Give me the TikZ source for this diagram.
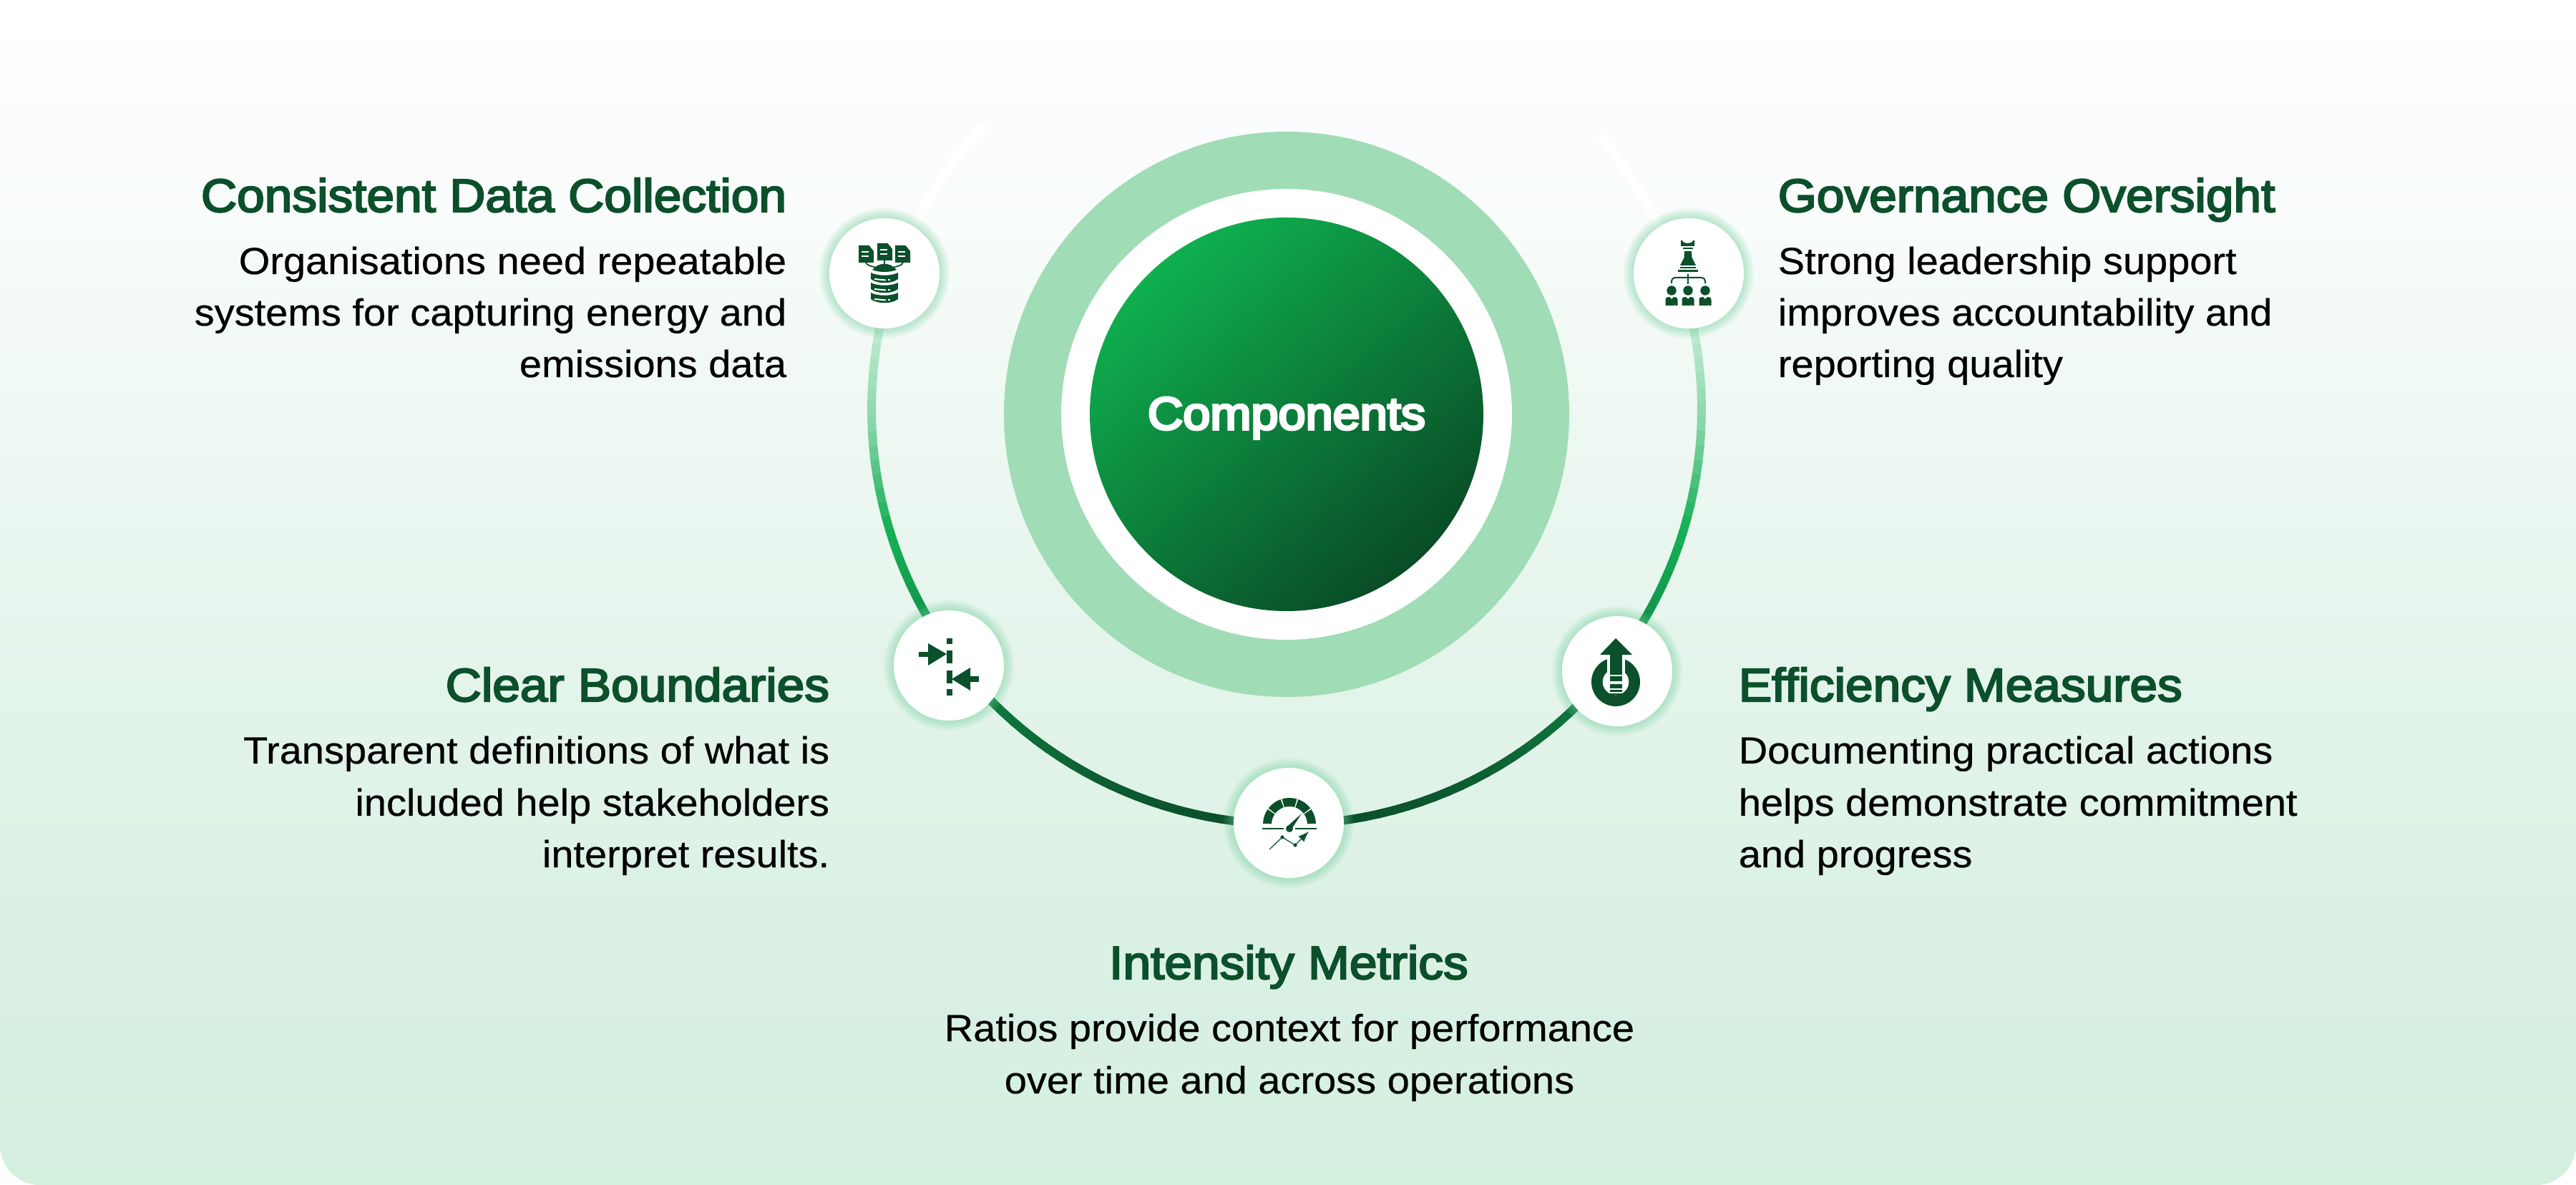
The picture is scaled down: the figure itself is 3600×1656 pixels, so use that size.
\documentclass[tikz,border=0pt]{standalone}
\usepackage{fontspec}
\setmainfont{Liberation Sans}
\usetikzlibrary{calc}
\newfontfamily\bodyfont[FakeStretch=1.06,FakeBold=0.4]{Liberation Sans}
\newfontfamily\headfont[FakeStretch=1.065,FakeBold=3.5]{Liberation Sans}
\newfontfamily\centrefont[FakeStretch=1.07,FakeBold=5.5]{Liberation Sans}
\definecolor{titlegreen}{HTML}{0B4F2B}
\definecolor{icongreen}{HTML}{0B4F2B}
\definecolor{halo}{HTML}{A0DCB5}
\definecolor{glow}{HTML}{6FD09A}
\definecolor{discA}{HTML}{0FB04F}
\definecolor{discB}{HTML}{094C26}
\definecolor{ringA}{HTML}{14AE55}
\definecolor{ringB}{HTML}{0B4F2B}
\definecolor{bg0}{HTML}{FFFFFF}\definecolor{bg1}{HTML}{FEFEFE}\definecolor{bg2}{HTML}{FBFCFE}\definecolor{bg3}{HTML}{F9FCFB}
\definecolor{bg4}{HTML}{F3FAF6}\definecolor{bg5}{HTML}{E6F5ED}\definecolor{bg6}{HTML}{E0F3E8}\definecolor{bg7}{HTML}{DBF1E5}\definecolor{bg8}{HTML}{D3EFDE}
\pgfdeclareverticalshading{bgshade}{100bp}{color(0bp)=(bg8); color(25bp)=(bg8); color(35.7bp)=(bg7); color(41.8bp)=(bg6); color(49.6bp)=(bg5); color(61.7bp)=(bg4); color(66.2bp)=(bg3); color(70.3bp)=(bg2); color(72bp)=(bg1); color(75bp)=(bg0); color(100bp)=(bg0)}
\tikzset{
  x=0.25pt,y=-0.25pt,
  headtext/.style={font=\fontsize{16.3pt}{18pt}\selectfont\headfont,text=titlegreen,inner sep=0pt,anchor=base},
  bodytext/.style={font=\fontsize{13.2pt}{18pt}\selectfont\bodyfont,text=black,inner sep=0pt,anchor=base},
  iconbg/.style={circle,fill=white,minimum size=38.5pt,inner sep=0pt,outer sep=0pt},
}
\newcommand{\halocircle}[1]{%
  \foreach \k in {14,12,...,2}{\fill[glow,opacity=0.075] (#1) circle[radius={(77+\k)*0.25pt}];}
}
\begin{document}
\begin{tikzpicture}
\useasboundingbox (0,0) rectangle (3600,1656);
% background
\path[shading=bgshade] (0,0) -- (3600,0) -- (3600,1600) arc[start angle=0,end angle=-90,radius=14pt] -- (56,1656) arc[start angle=-90,end angle=-180,radius=14pt] -- cycle;
% ring, coloured by height
\coordinate (ringc) at (1798,572);
\foreach \a in {-41,-39,...,221}{
  \pgfmathsetmacro{\yy}{572+580*sin(\a+1)}
  \pgfmathsetmacro{\tone}{\yy<340 ? 0 : (\yy<480 ? (\yy-340)/140*30 : (\yy<590 ? 30+(\yy-480)/110*20 : (\yy<740 ? 50+(\yy-590)/150*50 : 100)))}
  \pgfmathsetmacro{\dark}{\yy<760 ? 0 : min((\yy-760)/390,1)*100}
  \colorlet{segbase}{ringB!\dark!ringA}
  \draw[segbase!\tone!white,line width=3pt] ($(ringc)+({580*cos(\a)},{580*sin(\a)})$) -- ($(ringc)+({580*cos(\a+2.15)},{580*sin(\a+2.15)})$);
}
% centre
\node[circle,fill=halo,minimum size=197.5pt,inner sep=0pt] (haloring) at (1798,579) {};
\node[circle,fill=white,minimum size=157.5pt,inner sep=0pt] (whitering) at (haloring) {};
\path[top color=discA,bottom color=discB,shading angle=40] (haloring) circle[radius=68.75pt];
\node[headtext,font=\fontsize{16pt}{18pt}\selectfont\centrefont,text=white] (centrelabel) at (1798,600) {Components};
% icon discs
\coordinate (i1) at (1236,382);\coordinate (i2) at (2360,382);\coordinate (i3) at (1326,930);\coordinate (i4) at (2260,938);\coordinate (i5) at (1801,1150);
\halocircle{i1}\halocircle{i2}\halocircle{i3}\halocircle{i4}\halocircle{i5}
\node[iconbg] (d1) at (i1) {};\node[iconbg] (d2) at (i2) {};\node[iconbg] (d3) at (i3) {};\node[iconbg] (d4) at (i4) {};\node[iconbg] (d5) at (i5) {};
% icon 1: three documents over a database
\begin{scope}[shift={(i1)}]
 \foreach \dx/\dy in {-25.5/-27,0.5/-30,25.5/-27}{
  \fill[icongreen] (\dx-10.5,\dy-12) -- (\dx+4,\dy-12) -- (\dx+10.5,\dy-4) -- (\dx+10.5,\dy+12) -- (\dx-10.5,\dy+12) -- cycle;
  \fill[white] (\dx-7,\dy-4) rectangle (\dx+3,\dy-2);\fill[white] (\dx-7,\dy+2) rectangle (\dx+3,\dy+4);
 }
 \draw[icongreen,line width=0.45pt] (-26,-15) .. controls (-24,-10) and (-16,-10) .. (-12,-8) (0,-18) -- (0,-5) (26,-15) .. controls (24,-10) and (16,-10) .. (12,-8);
 \fill[icongreen] (-17,-5) .. controls (-8,-16) and (8,-16) .. (17,-5) .. controls (8,-1) and (-8,-1) .. (-17,-5) -- cycle;
 \foreach \yy in {0,14,28}{
  \fill[icongreen] (-19,\yy-1) .. controls (-10,\yy+4) and (10,\yy+4) .. (19,\yy-1) -- (19,\yy+8) .. controls (10,\yy+15) and (-10,\yy+15) .. (-19,\yy+8) -- cycle;
  \fill[white] (-14,\yy+7) -- (2,\yy+8.5) -- (2,\yy+10.5) -- (-14,\yy+9) -- cycle;
  \fill[white] (5,\yy+8.5) rectangle (7.5,\yy+10.5);
 }
\end{scope}
% icon 2: chess rook over team
\begin{scope}[shift={(i2)}]
 \fill[icongreen] (-11,-46) -- (-9,-46) .. controls (-9,-41) and (6,-41) .. (6,-46) -- (8,-46) -- (8,-38) -- (-11,-38) -- cycle;
 \fill[icongreen] (-8,-36) rectangle (6,-34);
 \fill[icongreen] (-6,-31) -- (4,-31) -- (4.5,-22) -- (10,-11) -- (-12,-11) -- (-6.5,-22) -- cycle;
 \fill[icongreen] (-12,-9) rectangle (10,-7);
 \fill[icongreen] (-15,-5) rectangle (13,-2);
 \draw[icongreen,line width=0.5pt,rounded corners=1.2pt] (-24,14) -- (-24,6) -- (23,6) -- (23,14);
 \draw[icongreen,line width=0.5pt] (-1,1) -- (-1,15);
 \foreach \dx in {-24,-1,23}{
  \fill[icongreen] (\dx,24) circle[radius=6.7];
  \fill[icongreen] (\dx-8.5,45) -- (\dx-8.5,37) .. controls (\dx-8.5,33) and (\dx-5,33) .. (\dx-3,33) -- (\dx,36) -- (\dx+3,33) .. controls (\dx+5,33) and (\dx+8.5,33) .. (\dx+8.5,37) -- (\dx+8.5,45) -- (\dx+5,45) -- (\dx+5,39) -- (\dx+4.5,45) -- (\dx-4.5,45) -- (\dx-5,39) -- (\dx-5,45) -- cycle;
 }
\end{scope}
% icon 3: arrows to a boundary
\begin{scope}[shift={(i3)}]
 \fill[icongreen] (-3,-38) rectangle (5,-30);
 \fill[icongreen] (-3,-21) rectangle (5,-3);
 \fill[icongreen] (-3,7) rectangle (5,25);
 \fill[icongreen] (-3,33) rectangle (5,42);
 \fill[icongreen] (-42,-19) rectangle (-29,-12);
 \fill[icongreen] (-29,-31) -- (-3,-16) -- (-29,0) -- cycle;
 \fill[icongreen] (30,15) rectangle (42,23);
 \fill[icongreen] (30,3) -- (4,19) -- (30,35) -- cycle;
\end{scope}
% icon 4: arrow through a ring
\begin{scope}[shift={(i4)}]
 \path[fill=icongreen,even odd rule] (-2,15) circle[radius=8.5pt] (-2,15) circle[radius=4.6pt];
 \fill[white] (-14,-25) rectangle (11,12);
 \fill[icongreen] (-10,-25) rectangle (7,5);
 \fill[icongreen] (-2,-46) -- (21,-23) -- (-24,-23) -- cycle;
 \fill[icongreen] (-10,7) rectangle (7,14);
 \fill[icongreen] (-10,18) rectangle (7,24);
 \fill[icongreen] (-10,26) rectangle (7,29);
 \fill[icongreen] (-10,31) rectangle (7,33);
\end{scope}
% icon 5: gauge and trend
\begin{scope}[shift={(i5)}]
 \foreach \st in {0,36,72,108,144}{
  \fill[icongreen] ({1+37*cos(\st+1.5)},{2-37*sin(\st+1.5)}) arc[start angle=\st+1.5,end angle=\st+34.5,radius=9.25pt] -- ({1+25*cos(\st+34.5)},{2-25*sin(\st+34.5)}) arc[start angle=\st+34.5,end angle=\st+1.5,radius=6.25pt] -- cycle;
 }
 \fill[icongreen] (-37,7) rectangle (-7,9.5);\fill[icongreen] (9,7) rectangle (39,9.5);
 \fill[icongreen] (1,8) circle[radius=5];
 \fill[icongreen] (-1,4) -- (18,-13) -- (5,7) -- cycle;
 \draw[icongreen,line width=0.3pt,-latex] (-27,37) -- (-9,20) -- (9,31) -- (28,12);
 \fill[icongreen] (-9,20) circle[radius=2.6];
 \fill[icongreen] (9,31) circle[radius=2.6];
\end{scope}
% texts
\node[headtext,anchor=base east] (t1) at (1100,296) {Consistent Data Collection};
\node[bodytext,anchor=base east] (b1a) at (1100,383) {Organisations need repeatable};
\node[bodytext,anchor=base east] (b1b) at (1100,455) {systems for capturing energy and};
\node[bodytext,anchor=base east] (b1c) at (1100,527) {emissions data};
\node[headtext,anchor=base west] (t2) at (2484,296) {Governance Oversight};
\node[bodytext,anchor=base west] (b2a) at (2484,383) {Strong leadership support};
\node[bodytext,anchor=base west] (b2b) at (2484,455) {improves accountability and};
\node[bodytext,anchor=base west] (b2c) at (2484,527) {reporting quality};
\node[headtext,anchor=base east] (t3) at (1160,980) {Clear Boundaries};
\node[bodytext,anchor=base east] (b3a) at (1160,1067) {Transparent definitions of what is};
\node[bodytext,anchor=base east] (b3b) at (1160,1140) {included help stakeholders};
\node[bodytext,anchor=base east] (b3c) at (1160,1212) {interpret results.};
\node[headtext,anchor=base west] (t4) at (2429,980) {Efficiency Measures};
\node[bodytext,anchor=base west] (b4a) at (2429,1067) {Documenting practical actions};
\node[bodytext,anchor=base west] (b4b) at (2429,1140) {helps demonstrate commitment};
\node[bodytext,anchor=base west] (b4c) at (2429,1212) {and progress};
\node[headtext] (t5) at (1801,1368) {Intensity Metrics};
\node[bodytext] (b5a) at (1802,1455) {Ratios provide context for performance};
\node[bodytext] (b5b) at (1802,1528) {over time and across operations};
\end{tikzpicture}
\end{document}
